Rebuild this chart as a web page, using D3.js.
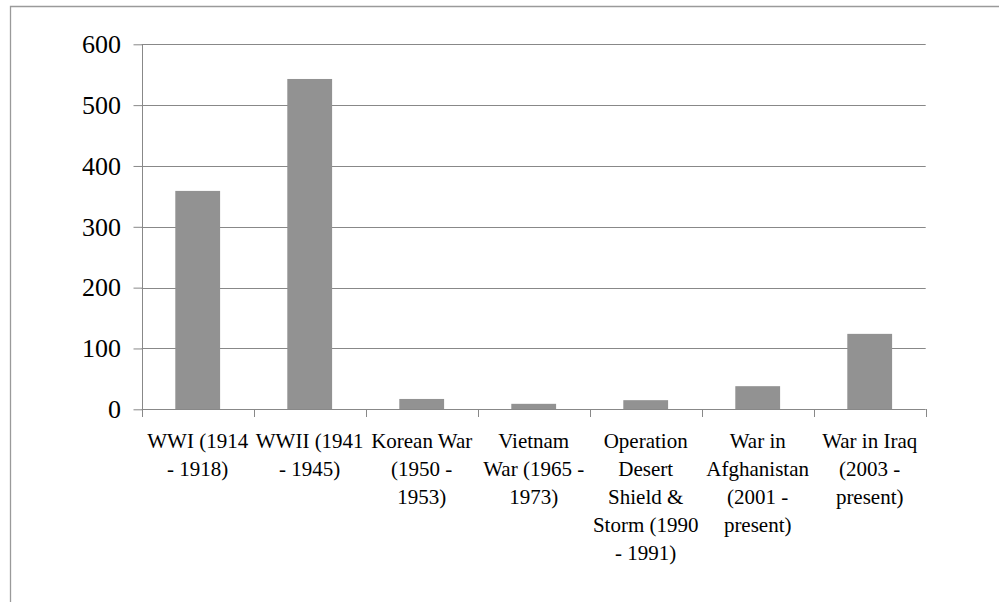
<!DOCTYPE html>
<html>
<head>
<meta charset="utf-8">
<script src="https://cdn.jsdelivr.net/npm/d3@7"></script>
</head>
<body style="margin:0">
<script>
// Conflict names (one entry per printed line) and values
const categoryLines = [
  ["WWI (1914", "- 1918)"],
  ["WWII (1941", "- 1945)"],
  ["Korean War", "(1950 -", "1953)"],
  ["Vietnam", "War (1965 -", "1973)"],
  ["Operation", "Desert", "Shield &", "Storm (1990", "- 1991)"],
  ["War in", "Afghanistan", "(2001 -", "present)"],
  ["War in Iraq", "(2003 -", "present)"]
];
const categories = categoryLines.map(l => l.join(" "));
const values = [359, 543, 17, 9, 15, 38, 124];
const yTicks = [0, 100, 200, 300, 400, 500, 600];

const W = 999, H = 602;
const plot = { left: 141.7, right: 925.7, top: 44.3, bottom: 409.3 };
const fontName = "Liberation Serif";
const labelSize = 21;
const tickSize = 26;
const lineHeight = 27.9;

const svg = d3.select("body").append("svg")
  .attr("width", W).attr("height", H)
  .style("display", "block");

// Outer frame: top and left edges
svg.append("path")
  .attr("d", `M10.5,${H} V6.5 H${W}`)
  .attr("fill", "none")
  .attr("stroke", "#9a9a9a")
  .attr("stroke-width", 1.3);

const x = d3.scaleBand()
  .domain(categories)
  .range([plot.left, plot.right])
  .paddingInner(0.6)
  .paddingOuter(0.3);

const y = d3.scaleLinear()
  .domain([0, 600])
  .range([plot.bottom, plot.top]);

const axisColor = "#888";

// Horizontal gridlines
svg.append("g")
  .selectAll("line")
  .data(yTicks.filter(d => d > 0))
  .join("line")
  .attr("x1", plot.left).attr("x2", plot.right)
  .attr("y1", d => Math.round(y(d)) + 0.5)
  .attr("y2", d => Math.round(y(d)) + 0.5)
  .attr("stroke", axisColor);

// Bars
svg.append("g")
  .selectAll("rect")
  .data(values)
  .join("rect")
  .attr("x", (d, i) => x(categories[i]))
  .attr("width", x.bandwidth())
  .attr("y", d => y(d))
  .attr("height", d => y(0) - y(d))
  .attr("fill", "#929292");

// Y axis line and tick marks
const gy = svg.append("g")
  .attr("transform", `translate(${Math.round(plot.left) + 0.5},0)`)
  .call(d3.axisLeft(y).tickValues(yTicks).tickSize(9).tickFormat(() => ""));
gy.select(".domain").attr("stroke", axisColor).attr("d", `M0,${plot.top}V${plot.bottom}`);
gy.selectAll(".tick line").attr("stroke", axisColor);
gy.selectAll(".tick text").remove();

// Y tick labels
yTicks.forEach(d => {
  svg.append("text")
    .attr("x", 121)
    .attr("y", y(d))
    .attr("dy", "0.34em")
    .attr("text-anchor", "end")
    .style("font-family", fontName)
    .style("font-size", tickSize + "px")
    .text(d3.format("d")(d));
});

// X axis baseline and category boundary ticks
const boundaries = d3.range(categories.length + 1)
  .map(i => plot.left + i * (plot.right - plot.left) / categories.length);
svg.append("line")
  .attr("x1", plot.left).attr("x2", plot.right)
  .attr("y1", Math.round(y(0)) + 0.5).attr("y2", Math.round(y(0)) + 0.5)
  .attr("stroke", axisColor);
svg.append("g")
  .selectAll("line")
  .data(boundaries)
  .join("line")
  .attr("x1", d => Math.round(d) + 0.5).attr("x2", d => Math.round(d) + 0.5)
  .attr("y1", Math.round(y(0))).attr("y2", Math.round(y(0)) + 8)
  .attr("stroke", axisColor);

// Category labels, centred under each bar
categoryLines.forEach((lines, i) => {
  const cx = x(categories[i]) + x.bandwidth() / 2;
  lines.forEach((ln, k) => {
    svg.append("text")
      .attr("x", cx)
      .attr("y", 448.3 + k * lineHeight)
      .attr("text-anchor", "middle")
      .style("font-family", fontName)
      .style("font-size", labelSize + "px")
      .text(ln);
  });
});
</script>
</body>
</html>
